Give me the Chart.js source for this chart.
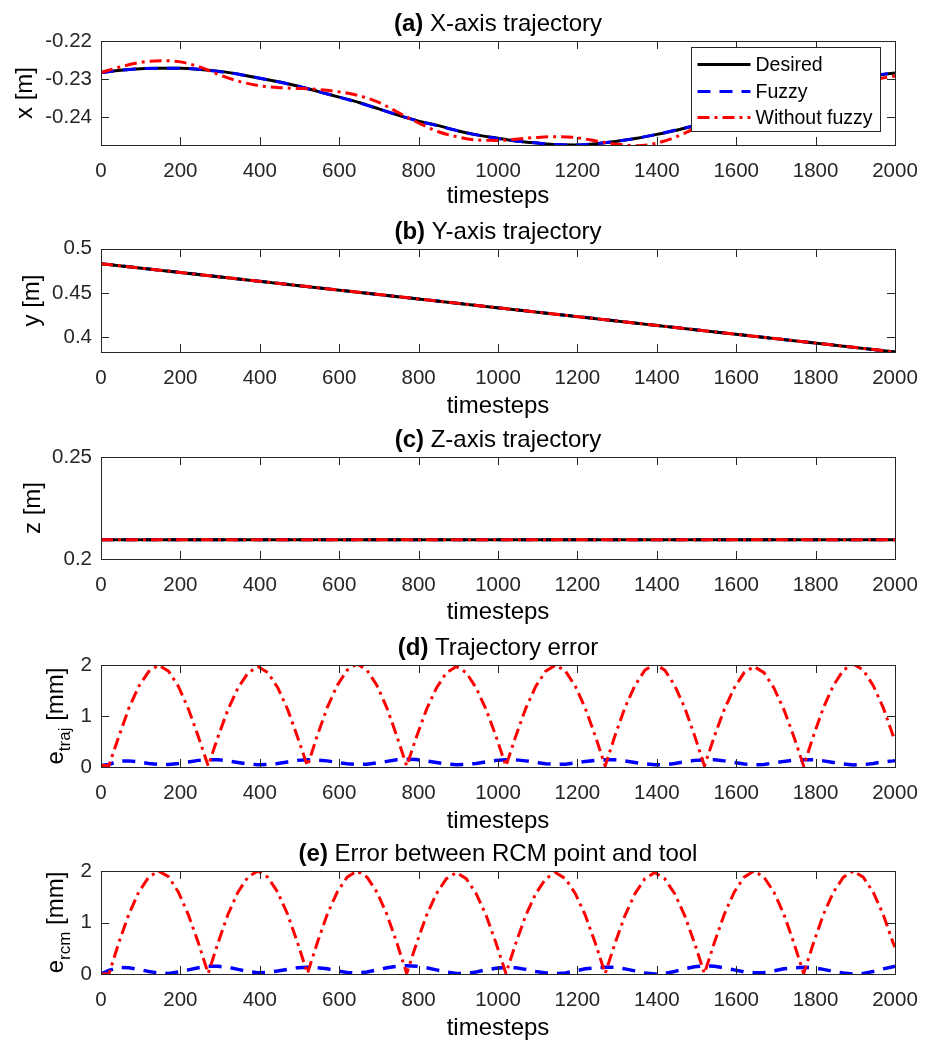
<!DOCTYPE html>
<html>
<head>
<meta charset="utf-8">
<script src="https://cdn.jsdelivr.net/npm/chart.js@4.4.1/dist/chart.umd.min.js"></script>
<style>
    html, body { margin: 0; padding: 0; background: #fff; }
    #wrap { position: relative; width: 933px; height: 1044px; overflow: hidden; background: #fff; }
    #wrap canvas { position: absolute; left: 0; }
</style>
</head>
<body>
<div id="wrap">
    <canvas id="chart_a"></canvas>
    <canvas id="chart_b"></canvas>
    <canvas id="chart_c"></canvas>
    <canvas id="chart_d"></canvas>
    <canvas id="chart_e"></canvas>
</div>
<script>
// ---- data ----
const xTicks = [0, 200, 400, 600, 800, 1000, 1200, 1400, 1600, 1800, 2000];

// (a) X-axis trajectory [m]
const tA = [0, 50, 100, 150, 200, 250, 300, 350, 400, 450, 500, 550, 600, 650, 700, 750, 800, 850, 900, 950,
    1000, 1050, 1100, 1150, 1200, 1250, 1300, 1350, 1400, 1450, 1500, 1550, 1600, 1650, 1700, 1750, 1800, 1850, 1900, 1950, 2000];
const desiredA = [-0.2283, -0.2277, -0.2273, -0.2272, -0.2272, -0.2275, -0.2280, -0.2288, -0.2298, -0.2308,
    -0.2320, -0.2334, -0.2348, -0.2362, -0.2379, -0.2396, -0.2411, -0.2423, -0.2437, -0.2448,
    -0.2456, -0.2464, -0.2469, -0.2473, -0.2474, -0.2470, -0.2464, -0.2456, -0.2446, -0.2435,
    -0.2422, -0.2406, -0.2390, -0.2373, -0.2356, -0.2340, -0.2325, -0.2311, -0.2299, -0.2291, -0.2284];
const fuzzyA = [-0.2283, -0.2277, -0.2273, -0.2272, -0.2272, -0.2275, -0.2281, -0.2288, -0.2298, -0.2308,
    -0.2320, -0.2334, -0.2348, -0.2363, -0.2379, -0.2396, -0.2411, -0.2424, -0.2437, -0.2448,
    -0.2457, -0.2464, -0.2469, -0.2473, -0.2474, -0.2470, -0.2464, -0.2456, -0.2446, -0.2434,
    -0.2421, -0.2406, -0.2390, -0.2373, -0.2356, -0.2340, -0.2325, -0.2311, -0.2299, -0.2290, -0.2284];
const withoutA = [-0.2283, -0.2268, -0.2256, -0.2252, -0.2255, -0.2269, -0.2290, -0.2307, -0.2318, -0.2323,
    -0.2325, -0.2328, -0.2334, -0.2344, -0.2362, -0.2389, -0.2416, -0.2439, -0.2453, -0.2461,
    -0.2462, -0.2458, -0.2454, -0.2452, -0.2455, -0.2464, -0.2472, -0.2476, -0.2469, -0.2452,
    -0.2428, -0.2405, -0.2386, -0.2370, -0.2356, -0.2343, -0.2331, -0.2320, -0.2310, -0.2301, -0.2292];
const yTicksA = [-0.24, -0.23, -0.22];

// (b) Y-axis trajectory [m]
const tB = [0, 2000];
const desiredB = [0.4832, 0.3836];
const fuzzyB = [0.4832, 0.3836];
const withoutB = [0.4832, 0.3836];
const yTicksB = [0.4, 0.45, 0.5];

// (c) Z-axis trajectory [m]
const tC = [0, 2000];
const desiredC = [0.2094, 0.2094];
const fuzzyC = [0.2094, 0.2094];
const withoutC = [0.2094, 0.2094];
const yTicksC = [0.2, 0.25];

// (d), (e) errors [mm]
const tErr = [0, 20, 45, 70, 95, 120, 145, 170, 195, 220, 245, 270, 295, 320, 345, 370, 395, 420, 445, 470, 495,
    520, 545, 570, 595, 620, 645, 670, 695, 720, 745, 770, 795, 820, 845, 870, 895, 920, 945, 970, 995,
    1020, 1045, 1070, 1095, 1120, 1145, 1170, 1195, 1220, 1245, 1270, 1295, 1320, 1345, 1370, 1395, 1420, 1445, 1470, 1495,
    1520, 1545, 1570, 1595, 1620, 1645, 1670, 1695, 1720, 1745, 1770, 1795, 1820, 1845, 1870, 1895, 1920, 1945, 1970, 1995, 2000];
const fuzzyD = [0.03, 0.05,
    0.12, 0.12, 0.10, 0.07, 0.05, 0.05, 0.07, 0.10, 0.13,
    0.14, 0.14, 0.12, 0.09, 0.06, 0.045, 0.05, 0.07, 0.10, 0.13,
    0.14, 0.135, 0.12, 0.09, 0.065, 0.05, 0.055, 0.08, 0.11, 0.14,
    0.15, 0.145, 0.12, 0.09, 0.06, 0.045, 0.05, 0.07, 0.10, 0.13,
    0.14, 0.14, 0.12, 0.09, 0.065, 0.05, 0.055, 0.08, 0.11, 0.13,
    0.14, 0.14, 0.12, 0.09, 0.06, 0.045, 0.045, 0.07, 0.10, 0.13,
    0.14, 0.14, 0.12, 0.09, 0.06, 0.045, 0.05, 0.08, 0.11, 0.135,
    0.14, 0.14, 0.12, 0.09, 0.06, 0.04, 0.045, 0.07, 0.10, 0.12,
    0.125];
const withoutD = [0.03,
    0.03, 0.60, 1.15, 1.58, 1.87, 2.00, 1.88, 1.58, 1.14, 0.60,
    0.02, 0.60, 1.13, 1.55, 1.84, 1.97, 1.85, 1.56, 1.13, 0.59,
    0.02, 0.62, 1.17, 1.60, 1.90, 2.02, 1.90, 1.60, 1.16, 0.61,
    0.02, 0.60, 1.13, 1.55, 1.85, 1.97, 1.85, 1.55, 1.13, 0.60,
    0.02, 0.61, 1.15, 1.58, 1.88, 2.00, 1.88, 1.58, 1.15, 0.61,
    0.02, 0.62, 1.17, 1.60, 1.90, 2.02, 1.90, 1.60, 1.17, 0.62,
    0.02, 0.60, 1.13, 1.55, 1.85, 1.97, 1.85, 1.55, 1.13, 0.60,
    0.02, 0.62, 1.17, 1.60, 1.90, 2.02, 1.90, 1.60, 1.17, 0.62,
    0.52];
const fuzzyE = [0.0, 0.07,
    0.13, 0.12, 0.09, 0.05, 0.02, 0.01, 0.04, 0.08, 0.12,
    0.15, 0.15, 0.13, 0.09, 0.05, 0.025, 0.03, 0.06, 0.09, 0.12,
    0.13, 0.12, 0.10, 0.06, 0.03, 0.02, 0.04, 0.08, 0.12, 0.15,
    0.16, 0.15, 0.12, 0.08, 0.04, 0.01, 0.01, 0.04, 0.08, 0.11,
    0.13, 0.12, 0.09, 0.05, 0.02, 0.01, 0.02, 0.06, 0.10, 0.12,
    0.13, 0.13, 0.10, 0.06, 0.02, 0.0, 0.01, 0.05, 0.10, 0.14,
    0.16, 0.15, 0.12, 0.08, 0.04, 0.025, 0.03, 0.06, 0.10, 0.12,
    0.13, 0.12, 0.09, 0.05, 0.02, 0.0, 0.01, 0.05, 0.10, 0.14,
    0.15];
const withoutE = [0.0,
    0.0, 0.61, 1.16, 1.59, 1.88, 2.00, 1.89, 1.59, 1.15, 0.61,
    0.01, 0.61, 1.16, 1.59, 1.88, 2.00, 1.88, 1.59, 1.16, 0.61,
    0.01, 0.61, 1.16, 1.59, 1.88, 2.00, 1.88, 1.59, 1.16, 0.61,
    0.01, 0.60, 1.14, 1.56, 1.85, 1.97, 1.85, 1.56, 1.14, 0.60,
    0.01, 0.60, 1.14, 1.56, 1.85, 1.97, 1.85, 1.56, 1.14, 0.60,
    0.01, 0.60, 1.14, 1.56, 1.85, 1.97, 1.85, 1.56, 1.14, 0.60,
    0.01, 0.61, 1.16, 1.59, 1.88, 2.00, 1.88, 1.59, 1.16, 0.61,
    0.01, 0.61, 1.16, 1.59, 1.88, 2.00, 1.88, 1.59, 1.16, 0.61,
    0.52];
const yTicksErr = [0, 1, 2];

// ---- look ----
const FONT = '"Liberation Sans", Arial, Helvetica, sans-serif';
const AXIS_COLOR = '#262626';
const TICK_LEN = 8;
const PAD_TOP = 40;
const X_AXIS_H = 75;

// panel text (title parts and y-label parts)
const panelText = {
    chart_a: { bold: '(a)', title: ' X-axis trajectory', ylab: ['x', '', ' [m]'], ylabX: 32, xlabY: 51, legend: true },
    chart_b: { bold: '(b)', title: ' Y-axis trajectory', ylab: ['y', '', ' [m]'], ylabX: 39, xlabY: 54 },
    chart_c: { bold: '(c)', title: ' Z-axis trajectory', ylab: ['z', '', ' [m]'], ylabX: 40, xlabY: 53 },
    chart_d: { bold: '(d)', title: ' Trajectory error', ylab: ['e', 'traj', ' [mm]'], ylabX: 63, xlabY: 54 },
    chart_e: { bold: '(e)', title: ' Error between RCM point and tool', ylab: ['e', 'rcm', ' [mm]'], ylabX: 63, xlabY: 54 },
};

function drawLegend(chart) {
    const ctx = chart.ctx;
    const a = chart.chartArea;
    const bx = Math.round(a.right - 204) + 0.5, by = Math.round(a.top + 6) + 0.5;
    const bw = 189, bh = 84;
    ctx.fillStyle = '#fff';
    ctx.fillRect(bx, by, bw, bh);
    ctx.strokeStyle = AXIS_COLOR;
    ctx.lineWidth = 1;
    ctx.setLineDash([]);
    ctx.strokeRect(bx, by, bw, bh);
    const rows = [17, 44, 70];
    ctx.font = '19.5px ' + FONT;
    ctx.textBaseline = 'middle';
    ctx.textAlign = 'left';
    // legend rows follow the label order Desired, Fuzzy, Without fuzzy
    const sorted = chart.data.datasets.slice().sort((p, q) => p.legendRank - q.legendRank);
    sorted.forEach((ds, i) => {
        const y = by + rows[i];
        ctx.save();
        ctx.strokeStyle = ds.borderColor;
        ctx.lineWidth = ds.borderWidth;
        ctx.setLineDash(ds.borderDash || []);
        ctx.beginPath();
        ctx.moveTo(bx + 6, y);
        ctx.lineTo(bx + 59, y);
        ctx.stroke();
        ctx.restore();
        ctx.fillStyle = '#000';
        ctx.fillText(ds.label, bx + 64, y + 1);
    });
}

const framePlugin = {
    id: 'frame',
    afterDatasetsDraw(chart) {
        const ctx = chart.ctx;
        const a = chart.chartArea;
        const xs = chart.scales.x, ys = chart.scales.y;
        const info = panelText[chart.canvas.id];
        ctx.save();
        ctx.strokeStyle = AXIS_COLOR;
        ctx.lineWidth = 1;
        ctx.setLineDash([]);
        ctx.beginPath();
        xs.ticks.forEach(t => {
            const px = Math.round(xs.getPixelForValue(t.value)) + 0.5;
            ctx.moveTo(px, a.bottom); ctx.lineTo(px, a.bottom - TICK_LEN);
            ctx.moveTo(px, a.top); ctx.lineTo(px, a.top + TICK_LEN);
        });
        ys.ticks.forEach(t => {
            const py = Math.round(ys.getPixelForValue(t.value)) + 0.5;
            ctx.moveTo(a.left, py); ctx.lineTo(a.left + TICK_LEN, py);
            ctx.moveTo(a.right, py); ctx.lineTo(a.right - TICK_LEN, py);
        });
        ctx.stroke();
        ctx.strokeRect(Math.round(a.left) + 0.5, Math.round(a.top) + 0.5, Math.round(a.width), Math.round(a.height));

        if (info.legend) drawLegend(chart);

        // title: bold tag + normal text, centred over the axes
        ctx.fillStyle = '#000';
        ctx.textBaseline = 'alphabetic';
        ctx.textAlign = 'left';
        const boldFont = 'bold 24px ' + FONT, normFont = '24px ' + FONT;
        ctx.font = boldFont;
        const wb = ctx.measureText(info.bold).width;
        ctx.font = normFont;
        const wn = ctx.measureText(info.title).width;
        const tx = (a.left + a.right) / 2 - (wb + wn) / 2;
        const ty = a.top - 10;
        ctx.font = boldFont;
        ctx.fillText(info.bold, tx, ty);
        ctx.font = normFont;
        ctx.fillText(info.title, tx + wb, ty);

        // x label
        ctx.textAlign = 'center';
        ctx.textBaseline = 'middle';
        ctx.fillText('timesteps', (a.left + a.right) / 2, a.bottom + info.xlabY);

        // y label, rotated, with optional subscript
        const [main, sub, rest] = info.ylab;
        const subFont = '17px ' + FONT;
        ctx.font = normFont;
        const w1 = ctx.measureText(main).width;
        const w3 = ctx.measureText(rest).width;
        ctx.font = subFont;
        const w2 = sub ? ctx.measureText(sub).width : 0;
        const total = w1 + w2 + w3;
        ctx.translate(info.ylabX, (a.top + a.bottom) / 2);
        ctx.rotate(-Math.PI / 2);
        ctx.textAlign = 'left';
        ctx.textBaseline = 'alphabetic';
        let cx = -total / 2;
        ctx.font = normFont;
        ctx.fillText(main, cx, 0);
        cx += w1;
        if (sub) {
            ctx.font = subFont;
            ctx.fillText(sub, cx, 7);
            cx += w2;
        }
        ctx.font = normFont;
        ctx.fillText(rest, cx, 0);
        ctx.restore();
    }
};

function pts(xv, yv) {
    return xv.map((x, i) => ({ x: x, y: yv[i] }));
}

// order: higher is drawn first (underneath)
function styleDesired(order) {
    return { label: 'Desired', legendRank: 0, borderColor: '#000000', borderWidth: 3, order: order };
}
function styleFuzzy(order, width) {
    return { label: 'Fuzzy', legendRank: 1, borderColor: '#0000ff', borderWidth: width || 3, borderDash: [13, 9], order: order };
}
function styleWithout(order) {
    return { label: 'Without fuzzy', legendRank: 2, borderColor: '#ff0000', borderWidth: 3, borderDash: [12, 5, 3, 5], order: order };
}

function makeChart(id, plotTop, plotBottom, datasets, yMin, yMax, yTicks, smooth) {
    const canvas = document.getElementById(id);
    const h = (plotBottom - plotTop) + PAD_TOP + X_AXIS_H;
    canvas.width = 933;
    canvas.height = h;
    canvas.style.top = (plotTop - PAD_TOP) + 'px';
    datasets.forEach(ds => {
        ds.pointRadius = 0;
        ds.fill = false;
        ds.borderCapStyle = 'butt';
        if (smooth) ds.cubicInterpolationMode = 'monotone';
        else ds.tension = 0;
    });
    return new Chart(canvas, {
        type: 'line',
        data: { datasets: datasets },
        options: {
            responsive: false,
            animation: false,
            events: [],
            layout: { padding: { top: PAD_TOP, left: 0, right: 38, bottom: 0 } },
            plugins: { legend: { display: false }, tooltip: { enabled: false }, title: { display: false } },
            scales: {
                x: {
                    type: 'linear', min: 0, max: 2000,
                    afterBuildTicks: s => { s.ticks = xTicks.map(v => ({ value: v })); },
                    afterFit: s => { s.height = X_AXIS_H; },
                    grid: { display: false, drawTicks: false },
                    border: { display: false },
                    ticks: {
                        autoSkip: false, maxRotation: 0, padding: 14,
                        color: AXIS_COLOR, font: { family: FONT, size: 20.5 },
                        callback: v => String(v)
                    }
                },
                y: {
                    type: 'linear', min: yMin, max: yMax,
                    afterBuildTicks: s => { s.ticks = yTicks.map(v => ({ value: v })); },
                    afterFit: s => { s.width = 101; },
                    grid: { display: false, drawTicks: false },
                    border: { display: false },
                    ticks: {
                        padding: 9,
                        color: AXIS_COLOR, font: { family: FONT, size: 20.5 },
                        callback: v => String(v)
                    }
                }
            }
        },
        plugins: [framePlugin]
    });
}

makeChart('chart_a', 41, 145, [
    Object.assign({ data: pts(tA, desiredA) }, styleDesired(3)),
    Object.assign({ data: pts(tA, fuzzyA) }, styleFuzzy(2)),
    Object.assign({ data: pts(tA, withoutA) }, styleWithout(1))
], -0.2474, -0.22, yTicksA, true);

makeChart('chart_b', 249, 352, [
    Object.assign({ data: pts(tB, desiredB) }, styleDesired(2)),
    Object.assign({ data: pts(tB, fuzzyB) }, styleFuzzy(3)),
    Object.assign({ data: pts(tB, withoutB) }, styleWithout(1))
], 0.3835, 0.4997, yTicksB, false);

makeChart('chart_c', 457, 559, [
    Object.assign({ data: pts(tC, desiredC) }, styleDesired(2)),
    Object.assign({ data: pts(tC, fuzzyC) }, styleFuzzy(3)),
    Object.assign({ data: pts(tC, withoutC) }, styleWithout(1))
], 0.2, 0.25, yTicksC, false);

makeChart('chart_d', 665, 767, [
    Object.assign({ data: pts(tErr, fuzzyD) }, styleFuzzy(2, 3.5)),
    Object.assign({ data: pts(tErr, withoutD) }, styleWithout(1))
], 0, 2, yTicksErr, false);

makeChart('chart_e', 871, 974, [
    Object.assign({ data: pts(tErr, fuzzyE) }, styleFuzzy(2, 3.5)),
    Object.assign({ data: pts(tErr, withoutE) }, styleWithout(1))
], 0, 2, yTicksErr, false);
</script>
</body>
</html>
